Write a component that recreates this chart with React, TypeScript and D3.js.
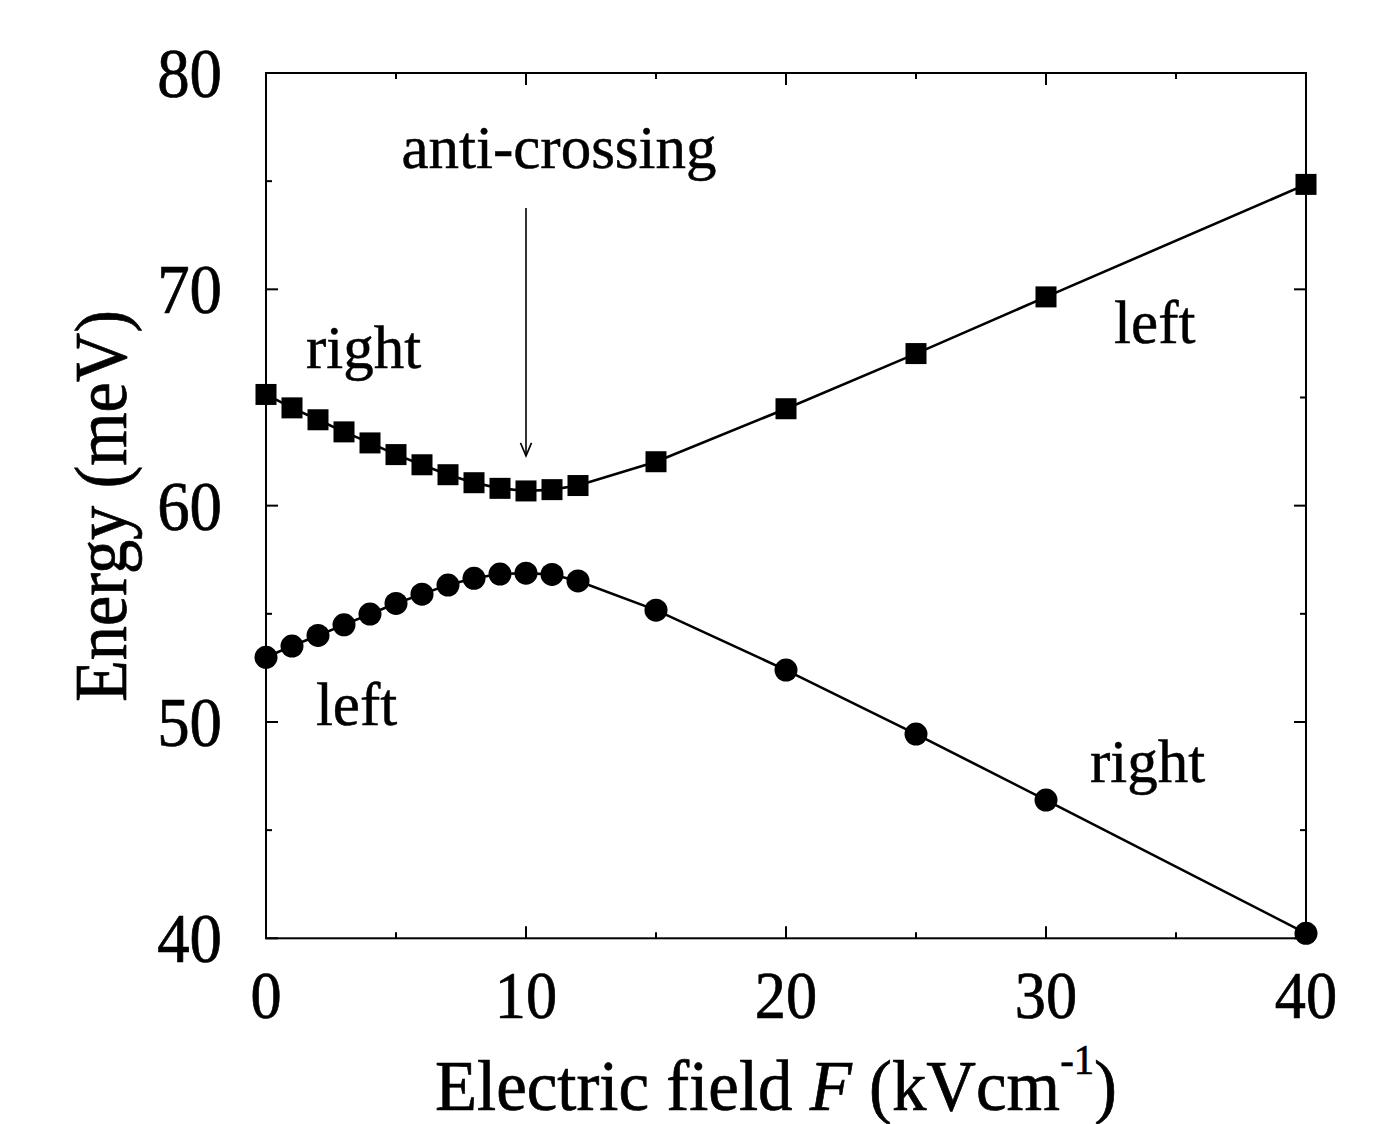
import React from "react";
import * as d3 from "d3";

const fieldValues = [0, 1, 2, 3, 4, 5, 6, 7, 8, 9, 10, 11, 12, 15, 20, 25, 30, 40];
const upperEnergy = [65.14, 64.52, 63.97, 63.41, 62.9, 62.36, 61.89, 61.43, 61.06, 60.8, 60.68, 60.74, 60.93, 62.03, 64.48, 67.03, 69.65, 74.85];
const lowerEnergy = [52.99, 53.51, 54.0, 54.49, 54.99, 55.48, 55.91, 56.33, 56.64, 56.84, 56.88, 56.82, 56.52, 55.17, 52.4, 49.44, 46.39, 40.23];

const xMajorTicks = [0, 10, 20, 30, 40];
const xMinorTicks = [5, 15, 25, 35];
const yMajorTicks = [40, 50, 60, 70, 80];
const yMinorTicks = [45, 55, 65, 75];

const annotations = [
  { text: "right", x: 1.54, y: 66.37, anchor: "start" },
  { text: "left", x: 1.92, y: 49.86, anchor: "start" },
  { text: "left", x: 32.62, y: 67.51, anchor: "start" },
  { text: "right", x: 31.69, y: 47.23, anchor: "start" },
  { text: "anti-crossing", x: 11.27, y: 75.61, anchor: "middle" },
];
const arrowX = 10;
const arrowTop = 73.76;
const arrowTip = 62.3;

const W = 1379;
const H = 1124;
const FONT = "'Liberation Serif', 'Times New Roman', serif";
const TS = 0.7;

export default function App() {
  const x = d3.scaleLinear().domain([0, 40]).range([266, 1306]);
  const y = d3.scaleLinear().domain([40, 80]).range([938.3, 73]);
  const [x0, x1] = x.range();
  const [y0, y1] = y.range();

  const upper = fieldValues.map((f, i) => [f, upperEnergy[i]] as [number, number]);
  const lower = fieldValues.map((f, i) => [f, lowerEnergy[i]] as [number, number]);
  const line = d3
    .line<[number, number]>()
    .x((d) => x(d[0]))
    .y((d) => y(d[1]));

  const major = 12;
  const minor = 6;
  const sq = 21;
  const r = 11.5;

  const ax = x(arrowX);
  const aTop = y(arrowTop);
  const aTip = y(arrowTip);

  return (
    <div style={{ position: "absolute", left: 0, top: 0, width: W, height: H, background: "#fff" }}>
      <svg width={W} height={H} style={{ display: "block" }}>
        <rect x={0} y={0} width={W} height={H} fill="#fff" />
        <rect x={x0} y={y1} width={x1 - x0} height={y0 - y1} fill="none" stroke="#000" strokeWidth={2} />
        {xMajorTicks.map((t) => (
          <g key={"xm" + t}>
            <line x1={x(t)} x2={x(t)} y1={y0} y2={y0 - major} stroke="#000" strokeWidth={2} />
            <line x1={x(t)} x2={x(t)} y1={y1} y2={y1 + major} stroke="#000" strokeWidth={2} />
          </g>
        ))}
        {xMinorTicks.map((t) => (
          <g key={"xn" + t}>
            <line x1={x(t)} x2={x(t)} y1={y0} y2={y0 - minor} stroke="#000" strokeWidth={2} />
            <line x1={x(t)} x2={x(t)} y1={y1} y2={y1 + minor} stroke="#000" strokeWidth={2} />
          </g>
        ))}
        {yMajorTicks.map((t) => (
          <g key={"ym" + t}>
            <line x1={x0} x2={x0 + major} y1={y(t)} y2={y(t)} stroke="#000" strokeWidth={2} />
            <line x1={x1} x2={x1 - major} y1={y(t)} y2={y(t)} stroke="#000" strokeWidth={2} />
          </g>
        ))}
        {yMinorTicks.map((t) => (
          <g key={"yn" + t}>
            <line x1={x0} x2={x0 + minor} y1={y(t)} y2={y(t)} stroke="#000" strokeWidth={2} />
            <line x1={x1} x2={x1 - minor} y1={y(t)} y2={y(t)} stroke="#000" strokeWidth={2} />
          </g>
        ))}
        {xMajorTicks.map((t) => (
          <text
            key={"xl" + t}
            transform={`translate(${x(t)},1018) scale(0.93,1)`}
            textAnchor="middle"
            fontFamily={FONT}
            fontSize={67}
            fill="#000"
            stroke="#000"
            strokeWidth={TS}
          >
            {t}
          </text>
        ))}
        {yMajorTicks.map((t) => (
          <text
            key={"yl" + t}
            transform={`translate(222,${y(t) + 24}) scale(0.94,1)`}
            textAnchor="end"
            fontFamily={FONT}
            fontSize={69}
            fill="#000"
            stroke="#000"
            strokeWidth={TS}
          >
            {t}
          </text>
        ))}
        <text
          transform={`translate(776,1110) scale(0.97,1)`}
          textAnchor="middle"
          fontFamily={FONT}
          fontSize={71}
          fill="#000"
          stroke="#000"
          strokeWidth={TS}
        >
          Electric field <tspan fontStyle="italic">F</tspan> (kVcm
          <tspan fontSize={42} dy={-36}>-1</tspan>
          <tspan dy={36}>)</tspan>
        </text>
        <text
          transform={`translate(126,506) rotate(-90) scale(0.925,1)`}
          textAnchor="middle"
          fontFamily={FONT}
          fontSize={74}
          fill="#000"
          stroke="#000"
          strokeWidth={TS}
        >
          Energy (meV)
        </text>
        <path d={line(upper) || ""} fill="none" stroke="#000" strokeWidth={2.6} />
        <path d={line(lower) || ""} fill="none" stroke="#000" strokeWidth={2.6} />
        {upper.map((d, i) => (
          <rect key={"s" + i} x={x(d[0]) - sq / 2} y={y(d[1]) - sq / 2} width={sq} height={sq} fill="#000" />
        ))}
        {lower.map((d, i) => (
          <circle key={"c" + i} cx={x(d[0])} cy={y(d[1])} r={r} fill="#000" />
        ))}
        <line x1={ax} x2={ax} y1={aTop} y2={aTip} stroke="#000" strokeWidth={1.6} />
        <path
          d={`M${ax - 5.5},${aTip - 13} L${ax},${aTip} L${ax + 5.5},${aTip - 13}`}
          fill="none"
          stroke="#000"
          strokeWidth={1.6}
        />
        {annotations.map((a, i) => (
          <text
            key={"a" + i}
            x={x(a.x)}
            y={y(a.y)}
            textAnchor={a.anchor as any}
            fontFamily={FONT}
            fontSize={61}
            fill="#000"
            stroke="#000"
            strokeWidth={0.5}
          >
            {a.text}
          </text>
        ))}
      </svg>
    </div>
  );
}
